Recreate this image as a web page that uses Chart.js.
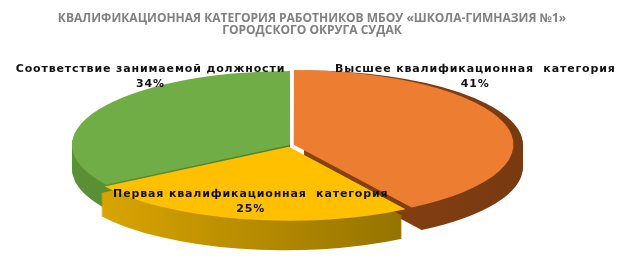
<!DOCTYPE html>
<html lang="ru">
<head>
<meta charset="utf-8">
<script src="https://cdn.jsdelivr.net/npm/chart.js@4/dist/chart.umd.min.js"></script>
<style>
  html, body { margin: 0; padding: 0; background: #fff; }
  #wrap { width: 624px; height: 261px; }
</style>
</head>
<body>
<div id="wrap"><canvas id="pieChart"></canvas></div>
<script>
// --- data ---
const categories = ['Высшее квалификационная  категория', 'Первая квалификационная  категория', 'Соответствие занимаемой должности'];
const shares = [41, 25, 34];
const titleLines = ['КВАЛИФИКАЦИОННАЯ КАТЕГОРИЯ РАБОТНИКОВ МБОУ «ШКОЛА-ГИМНАЗИЯ №1»', 'ГОРОДСКОГО ОКРУГА СУДАК'];

const topColors = ['#ed7d31', '#ffc000', '#70ad47'];
// side shading, left -> right
const sideColors = [['#9a4a16', '#7a3a10'], ['#e0a900', '#7c6200'], ['#5b9136', '#3f6a25']];

// ellipse the flat pie is squashed into
const CX = 290, CY = 145, RX = 218, RY = 74, DEPTH = 24;

function toEllipse(ctx, a) {
    ctx.translate(CX, CY);
    ctx.scale(RX / a.outerRadius, RY / a.outerRadius);
    ctx.translate(-a.x, -a.y);
}

function slicePath(ctx, a) {
    const mid = (a.startAngle + a.endAngle) / 2;
    const off = a.options.offset || 0;
    const x = a.x + Math.cos(mid) * off, y = a.y + Math.sin(mid) * off;
    ctx.beginPath();
    ctx.moveTo(x, y);
    ctx.arc(x, y, a.outerRadius, a.startAngle, a.endAngle);
    ctx.closePath();
}

const pie3d = {
    id: 'pie3d',
    beforeDatasetsDraw(chart) {
        const ctx = chart.ctx;
        const arcs = chart.getDatasetMeta(0).data;
        for (let k = DEPTH; k > 0; k--) {
            arcs.forEach((a, i) => {
                ctx.save();
                ctx.translate(0, k);
                toEllipse(ctx, a);
                slicePath(ctx, a);
                const g = ctx.createLinearGradient(a.x - a.outerRadius, 0, a.x + a.outerRadius, 0);
                g.addColorStop(0, sideColors[i][0]);
                g.addColorStop(1, sideColors[i][1]);
                ctx.fillStyle = g;
                ctx.fill();
                ctx.restore();
            });
        }
        ctx.save();
        toEllipse(ctx, arcs[0]);
    },
    afterDatasetsDraw(chart) {
        const ctx = chart.ctx;
        ctx.restore();
        // label anchors relative to the ellipse
        const spots = [
            [CX + 0.85 * RX, CY - RY + 1],
            [CX - 0.18 * RX, CY + 52],
            [CX - 0.64 * RX, CY - RY + 1]
        ];
        ctx.save();
        ctx.font = 'bold 11px "DejaVu Sans"';
        ctx.letterSpacing = '0.85px';
        ctx.fillStyle = '#111';
        ctx.textAlign = 'center';
        ctx.textBaseline = 'alphabetic';
        shares.forEach((v, i) => {
            const [x, y] = spots[i];
            ctx.fillText(categories[i], x, y);
            ctx.fillText(v + '%', x, y + 15);
        });
        ctx.restore();
    }
};

const ctxPie = document.getElementById('pieChart');
new Chart(ctxPie, {
    type: 'pie',
    data: {
        labels: categories,
        datasets: [{
            data: shares,
            backgroundColor: topColors,
            borderWidth: 0,
            offset: [7, 10, 0],
            clip: false
        }]
    },
    options: {
        responsive: true,
        maintainAspectRatio: false,
        animation: false,
        events: [],
        layout: { padding: { top: 10, bottom: 10 } },
        plugins: {
            legend: { display: false },
            tooltip: { enabled: false },
            title: {
                display: true,
                text: titleLines,
                color: '#808080',
                font: { family: '"Open Sans"', size: 12, weight: 'bold', lineHeight: 1.05 },
                padding: { top: 2, bottom: 6 }
            }
        }
    },
    plugins: [pie3d]
});
</script>
</body>
</html>
